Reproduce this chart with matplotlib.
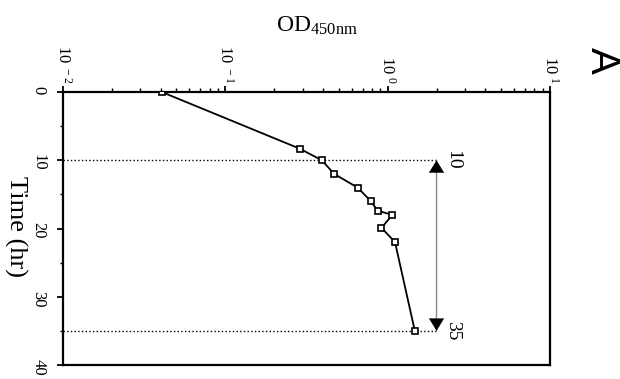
import matplotlib
matplotlib.use("Agg")
import matplotlib.pyplot as plt
from matplotlib.ticker import MultipleLocator, FixedLocator, LogLocator, NullFormatter

plt.rcParams['font.family'] = 'Liberation Serif'
plt.rcParams['mathtext.fontset'] = 'custom'
plt.rcParams['mathtext.rm'] = 'Liberation Serif'
plt.rcParams['mathtext.default'] = 'regular'

# growth curve
time = [0, 8.3, 10, 12, 14, 16, 17.4, 18, 19.9, 22, 35]
od = [0.0406, 0.287, 0.393, 0.468, 0.652, 0.789, 0.867, 1.07, 0.916, 1.11, 1.47]

# marked window
window = [10, 35]
window_od = 2.0

od_ticks = [0.01, 0.1, 1, 10]
od_labels = ['$10^{\\ -2}$', '$10^{\\ -1}$', '$10^{\\ 0}$', '$10^{\\ 1}$']
time_ticks = [0, 10, 20, 30, 40]

fig = plt.figure(figsize=(6.2, 3.79), dpi=100)
ax = fig.add_axes([63/620, 1-365/379, 487/620, 273/379])

ax.plot(od, time, color='black', lw=1.3, marker='s', ms=5,
        mfc='white', mec='black', mew=1.2, zorder=3)

ax.hlines(window, 0.01, window_od, colors='black', linestyles=':', lw=1)
# gray line with black heads
ax.annotate('', xy=(window_od, window[0]), xytext=(window_od, window[1]),
            arrowprops=dict(arrowstyle='-', color='#888888', lw=1,
                            shrinkA=0, shrinkB=0))
ax.annotate('', xy=(window_od, window[0]), xytext=(window_od, window[1]),
            arrowprops=dict(arrowstyle='<|-|>,head_length=0.9,head_width=0.55',
                            fc='black', lw=0, mutation_scale=10,
                            shrinkA=0, shrinkB=0))
for t in window:
    ax.text(window_od * 1.11, t, str(t), rotation=-90, ha='left', va='center',
            fontsize=14)

ax.set_xscale('log')
ax.set_xlim(0.01, 10)
ax.set_ylim(40, 0)
ax.xaxis.tick_top()
ax.xaxis.set_major_locator(FixedLocator(od_ticks))
ax.set_xticklabels(od_labels)
ax.xaxis.set_minor_locator(LogLocator(base=10, subs=range(2, 10)))
ax.xaxis.set_minor_formatter(NullFormatter())
ax.set_yticks(time_ticks)
ax.yaxis.set_minor_locator(MultipleLocator(5))

ax.tick_params(axis='x', which='major', direction='out', length=4, width=1.3,
               labelsize=12, labelrotation=-90, pad=2)
ax.tick_params(axis='x', which='minor', direction='out', length=3, width=1)
ax.tick_params(axis='y', which='major', direction='out', length=4, width=1.3,
               labelsize=12, labelrotation=-90, pad=8)
ax.tick_params(axis='y', which='minor', direction='out', length=2, width=1)
for s in ax.spines.values():
    s.set_linewidth(1.6)

fig.text(276/620, 1-32/379, r'OD$_{450nm}$', fontsize=17, ha='left', va='baseline')
fig.text(4/620, 1-226/379, 'Time (hr)', fontsize=19, rotation=-90,
         ha='left', va='center')
fig.text(583/620, 1-60/379, 'A', fontsize=29, family='Liberation Sans',
         rotation=-90, ha='left', va='center')

fig.savefig('out.png', dpi=100)
